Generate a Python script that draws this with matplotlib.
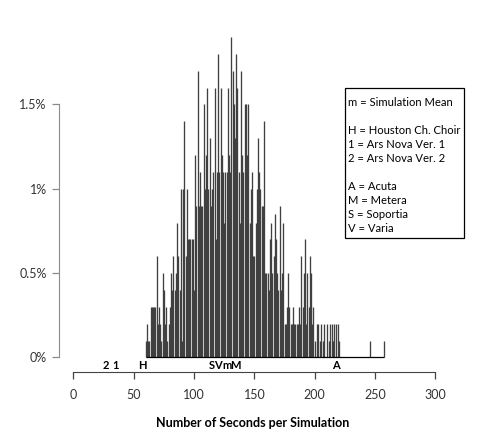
"""Histogram of simulated performance lengths, one bar per second."""

import matplotlib

matplotlib.use("Agg")
import matplotlib.pyplot as plt
from matplotlib.patches import Rectangle

N_SIMS = 2000

# seconds 60..220, then two stragglers
seconds = list(range(60, 221)) + [246, 257]
counts = [
    2, 4, 2, 2, 6, 6, 6, 6, 6, 12,        # 60-69
    4, 6, 4, 2, 10, 8, 4, 6, 2, 4,        # 70-79
    6, 10, 8, 12, 8, 10, 16, 12, 8, 20,   # 80-89
    2, 20, 28, 12, 20, 14, 14, 14, 14, 14,  # 90-99
    8, 24, 18, 34, 18, 22, 18, 18, 30, 20,  # 100-109
    24, 32, 20, 26, 18, 20, 22, 32, 14, 22,  # 110-119
    36, 22, 32, 24, 22, 16, 22, 22, 32, 24,  # 120-129
    22, 38, 34, 30, 26, 36, 32, 22, 16, 34,  # 130-139
    24, 22, 30, 30, 24, 30, 16, 20, 22, 12,  # 140-149
    12, 16, 20, 26, 22, 20, 18, 18, 28, 10,  # 150-159
    10, 10, 8, 14, 16, 10, 12, 17, 14, 10,  # 160-169
    8, 18, 8, 10, 16, 4, 4, 6, 10, 6,     # 170-179
    4, 4, 6, 4, 4, 4, 4, 6, 4, 12,        # 180-189
    6, 10, 14, 4, 10, 6, 12, 10, 4, 6,    # 190-199
    2, 0, 4, 4, 2, 4, 0, 2, 4, 0,         # 200-209
    4, 0, 2, 4, 4, 2, 4, 0, 4, 4,         # 210-219
    2,                                    # 220
    2, 2,                                 # 246, 257
]

# where the reference performances fall on the time axis
marker_labels = ["2", "1", "H", "S", "V", "m", "M", "A"]
marker_secs = [27, 35, 57, 114.5, 120, 127, 134.5, 218]

legend_lines = [
    "m = Simulation Mean",
    "",
    "H = Houston Ch. Choir",
    "1 = Ars Nova Ver. 1",
    "2 = Ars Nova Ver. 2",
    "",
    "A = Acuta",
    "M = Metera",
    "S = Soportia",
    "V = Varia",
]

x_ticks = [0, 50, 100, 150, 200, 250, 300]
y_ticks = [0, 0.5, 1.0, 1.5]
y_tick_labels = ["0%", "0.5%", "1%", "1.5%"]

W, H = 480, 445
SANS = ["Lato", "DejaVu Sans"]


def main() -> None:
    pct = [c / N_SIMS * 100 for c in counts]

    fig = plt.figure(figsize=(W / 100, H / 100), dpi=100)
    # axes box in pixels: left 50, right 475, top 25, bottom 380
    ax = fig.add_axes([50 / W, (H - 380) / H, 425 / W, 355 / H])
    ax.set_xlim(-19.3, 332.8)
    ax.set_ylim(-0.1334, 1.971)

    ax.vlines(seconds, 0, pct, color="#404040", linewidth=0.95)
    ax.hlines(0, min(seconds), max(seconds), color="black", linewidth=0.9)

    for side in ("top", "right"):
        ax.spines[side].set_visible(False)
    ax.spines["left"].set_position(("data", -11.6))
    ax.spines["left"].set_bounds(0, 1.5)
    ax.spines["left"].set_color("#8c8c8c")
    ax.spines["bottom"].set_position(("data", -0.0877))
    ax.spines["bottom"].set_bounds(0, 300)
    ax.spines["bottom"].set_color("#444444")

    ax.set_xticks(x_ticks)
    ax.set_xticklabels([str(t) for t in x_ticks], family=SANS, fontsize=9,
                       color="#333333")
    ax.set_yticks(y_ticks)
    ax.set_yticklabels(y_tick_labels, family=SANS, fontsize=9, color="#333333")
    ax.tick_params(axis="x", length=5, width=0.9, color="#444444", pad=7)
    ax.tick_params(axis="y", length=5, width=0.9, color="#8c8c8c", pad=4)

    for lab, s in zip(marker_labels, marker_secs):
        ax.text(s, -0.0504, lab, ha="center", va="center", family=SANS,
                fontsize=8, fontweight="bold", clip_on=False)

    fig.text(253 / W, 1 - 423 / H, "Number of Seconds per Simulation",
             ha="center", va="center", family=SANS, fontsize=9, fontweight="bold")

    # legend box drawn in figure pixels
    fig.patches.append(Rectangle((345 / W, 1 - 238 / H), 119 / W, 150 / H,
                                 transform=fig.transFigure, fill=False,
                                 edgecolor="black", linewidth=0.9))
    for i, line in enumerate(legend_lines):
        if line:
            fig.text(348 / W, 1 - (102 + i * 14.1) / H, line, ha="left",
                     va="center", family=SANS, fontsize=8.1)

    fig.savefig("out.png", dpi=100)
    plt.close(fig)


if __name__ == "__main__":
    main()
